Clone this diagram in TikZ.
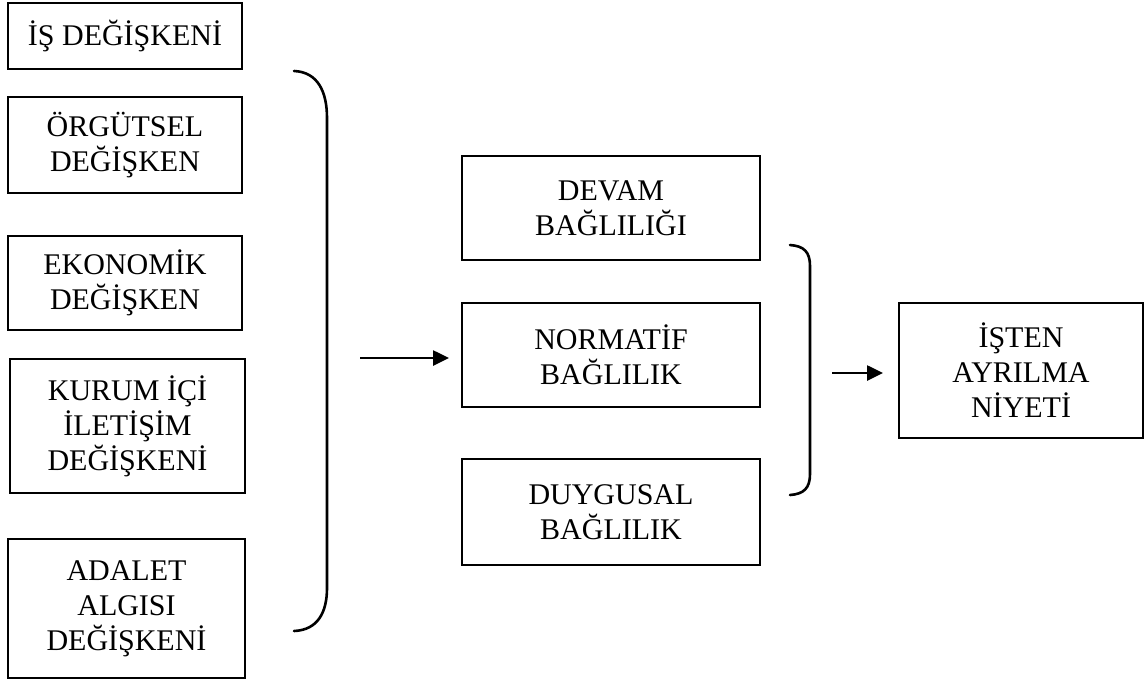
\documentclass[tikz,border=0pt]{standalone}
\usepackage{fontspec}
\setmainfont{Liberation Serif}
\usetikzlibrary{arrows.meta}
\begin{document}
\begin{tikzpicture}[x=0.5pt,y=-0.5pt,
  box/.style={draw, line width=1pt, inner sep=0pt, outer sep=0pt, align=center,
    font=\fontsize{15}{17.5}\selectfont},
  brace/.style={line width=1.3pt, line cap=round},
  arr/.style={line width=1.3pt, -{Triangle[length=8pt,width=7.5pt]}}]
\useasboundingbox (0,0) rectangle (1145,681);

% influencing variables
\node[box, minimum width=117pt, minimum height=33pt]   (is)   at (125,36)    {İŞ DEĞİŞKENİ};
\node[box, minimum width=117pt, minimum height=48pt]   (org)  at (125,145)   {ÖRGÜTSEL\\DEĞİŞKEN};
\node[box, minimum width=117pt, minimum height=47pt]   (eko)  at (125,283)   {EKONOMİK\\DEĞİŞKEN};
\node[box, minimum width=117.5pt, minimum height=67pt] (ilt)  at (127.5,426) {KURUM İÇİ\\İLETİŞİM\\DEĞİŞKENİ};
\node[box, minimum width=118.5pt, minimum height=69.5pt] (ada) at (126.5,608.5) {ADALET\\ALGISI\\DEĞİŞKENİ};

% commitment types
\node[box, minimum width=149pt, minimum height=52pt] (devam) at (611,208) {DEVAM\\BAĞLILIĞI};
\node[box, minimum width=149pt, minimum height=52pt] (norm)  at (611,355) {NORMATİF\\BAĞLILIK};
\node[box, minimum width=149pt, minimum height=53pt] (duyg)  at (611,512) {DUYGUSAL\\BAĞLILIK};

% outcome
\node[box, minimum width=122pt, minimum height=67.5pt] (niyet) at (1021,370.5) {İŞTEN\\AYRILMA\\NİYETİ};

% grouping brackets
\coordinate (b1top) at (294,71);
\coordinate (b1bot) at (294,631);
\draw[brace] (b1top) .. controls (318,72) and (327,92) .. (327,118)
  -- (327,588) .. controls (327,612) and (318,630) .. (b1bot);

\coordinate (b2top) at (790,245);
\coordinate (b2bot) at (790,495);
\draw[brace] (b2top) .. controls (804,246) and (810,252) .. (810,266)
  -- (810,474) .. controls (810,488) and (804,494) .. (b2bot);

% arrows
\coordinate (a1s) at (360,358);
\draw[arr, shorten >=6.5pt] (a1s) -- (a1s -| norm.west);
\coordinate (a2s) at (832,373);
\draw[arr, shorten >=8pt] (a2s) -- (a2s -| niyet.west);
\end{tikzpicture}
\end{document}
